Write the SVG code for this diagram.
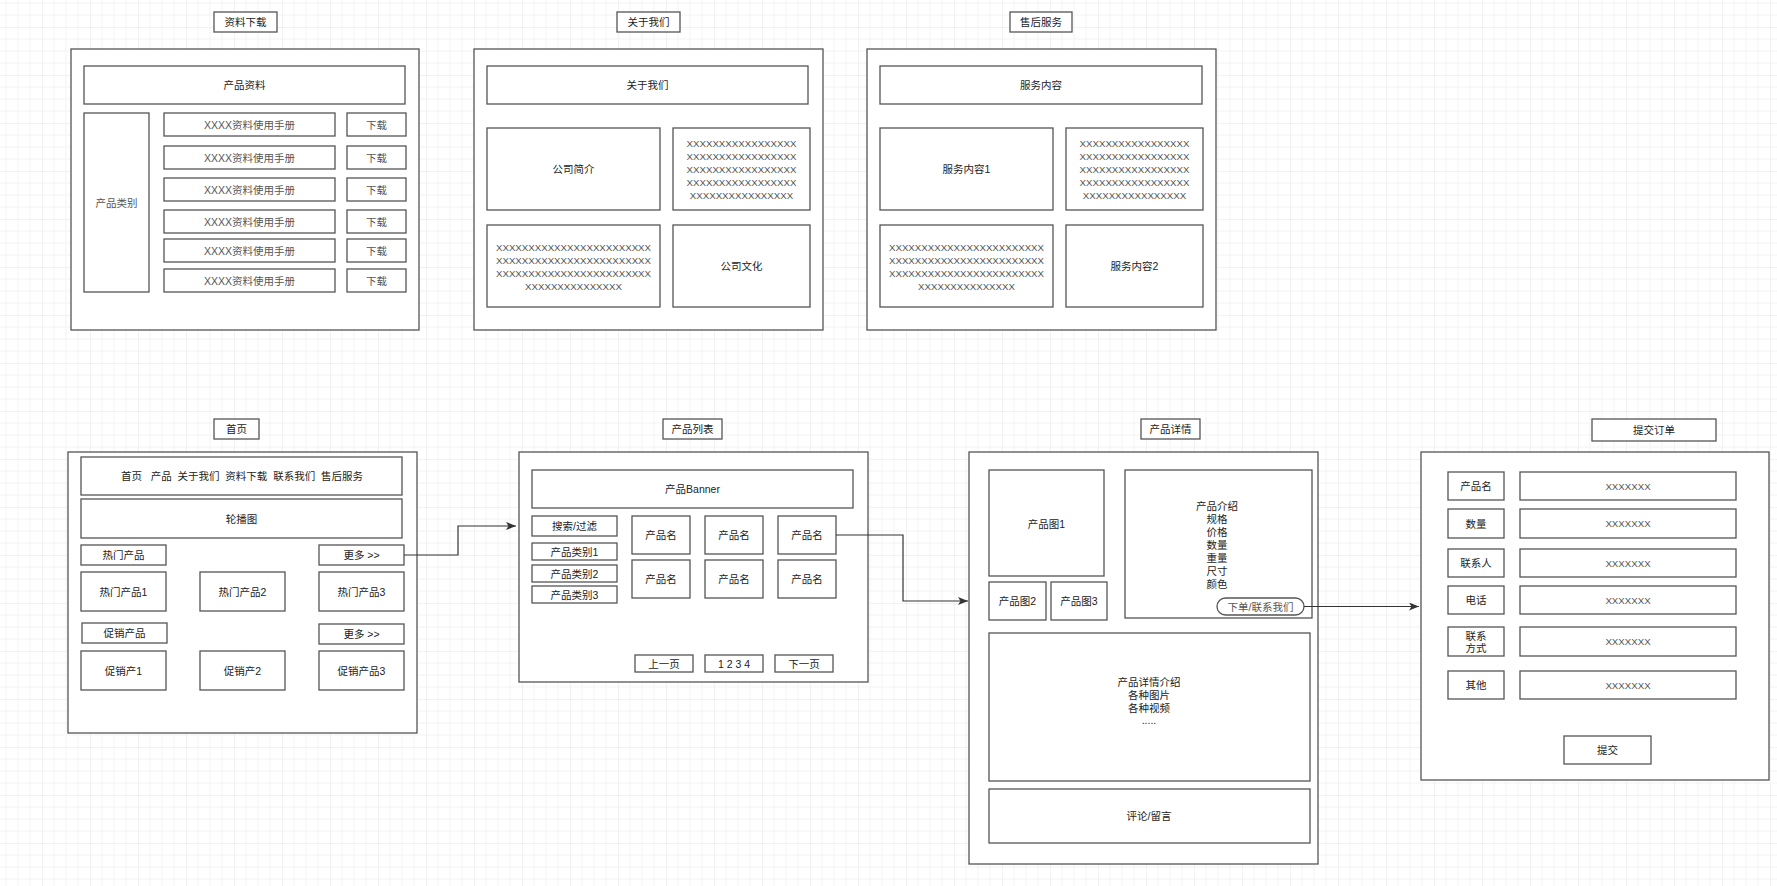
<svg xmlns="http://www.w3.org/2000/svg" width="1777" height="886" viewBox="0 0 1777 886">
<style>
.b{fill:#fff;stroke:#555;stroke-width:1.3}
.t{font-family:"Liberation Sans","Noto Sans CJK SC",sans-serif;font-size:10.5px;fill:#222;text-anchor:middle;dominant-baseline:central}
.l{fill:#555}
.x{font-family:"Liberation Sans","Noto Sans CJK SC",sans-serif;font-size:9.7px;fill:#555;text-anchor:middle;dominant-baseline:central}
.c{fill:none;stroke:#333;stroke-width:1.2}
</style>
<defs>
<pattern id="grid" x="42" y="27" width="48" height="48" patternUnits="userSpaceOnUse">
<path d="M12 0V48M24 0V48M36 0V48M0 12H48M0 24H48M0 36H48" stroke="#f3f3f3" stroke-width="1" fill="none"/>
<path d="M0 0V48M0 0H48" stroke="#e6e6e6" stroke-width="1" fill="none"/>
</pattern>
<marker id="arr" markerWidth="10" markerHeight="8" refX="10" refY="4" orient="auto" markerUnits="userSpaceOnUse">
<path d="M0 0L10 4L0 8L2.5 4Z" fill="#333"/>
</marker>
</defs>
<rect width="1777" height="886" fill="#fff"/>
<rect width="1777" height="886" fill="url(#grid)"/>

<g id="page-download">
<rect class="b" x="214" y="12" width="63" height="20"/><text class="t" x="245.5" y="22">资料下载</text>
<rect class="b" x="71" y="49" width="348" height="281"/>
<rect class="b" x="84" y="66" width="321" height="38"/><text class="t" x="244.5" y="85">产品资料</text>
<rect class="b" x="84" y="113" width="65" height="179"/><text class="t l" x="116.5" y="202.5">产品类别</text>
<rect class="b" x="164" y="113" width="171" height="23"/><text class="t l" x="249.5" y="124.5">XXXX资料使用手册</text>
<rect class="b" x="347" y="113" width="59" height="23"/><text class="t l" x="376.5" y="124.5">下载</text>
<rect class="b" x="164" y="146" width="171" height="23"/><text class="t l" x="249.5" y="157.5">XXXX资料使用手册</text>
<rect class="b" x="347" y="146" width="59" height="23"/><text class="t l" x="376.5" y="157.5">下载</text>
<rect class="b" x="164" y="178" width="171" height="23"/><text class="t l" x="249.5" y="189.5">XXXX资料使用手册</text>
<rect class="b" x="347" y="178" width="59" height="23"/><text class="t l" x="376.5" y="189.5">下载</text>
<rect class="b" x="164" y="210" width="171" height="23"/><text class="t l" x="249.5" y="221.5">XXXX资料使用手册</text>
<rect class="b" x="347" y="210" width="59" height="23"/><text class="t l" x="376.5" y="221.5">下载</text>
<rect class="b" x="164" y="239" width="171" height="23"/><text class="t l" x="249.5" y="250.5">XXXX资料使用手册</text>
<rect class="b" x="347" y="239" width="59" height="23"/><text class="t l" x="376.5" y="250.5">下载</text>
<rect class="b" x="164" y="269" width="171" height="23"/><text class="t l" x="249.5" y="280.5">XXXX资料使用手册</text>
<rect class="b" x="347" y="269" width="59" height="23"/><text class="t l" x="376.5" y="280.5">下载</text>
</g>

<g id="page-about">
<rect class="b" x="617" y="12" width="63" height="20"/><text class="t" x="648.5" y="22">关于我们</text>
<rect class="b" x="474" y="49" width="349" height="281"/>
<rect class="b" x="487" y="66" width="321" height="38"/><text class="t" x="647.5" y="85">关于我们</text>
<rect class="b" x="487" y="128" width="173" height="82"/><text class="t" x="573.5" y="169">公司简介</text>
<rect class="b" x="673" y="128" width="137" height="82"/>
<text class="x" x="741.5" y="143">XXXXXXXXXXXXXXXXX</text>
<text class="x" x="741.5" y="156">XXXXXXXXXXXXXXXXX</text>
<text class="x" x="741.5" y="169">XXXXXXXXXXXXXXXXX</text>
<text class="x" x="741.5" y="182">XXXXXXXXXXXXXXXXX</text>
<text class="x" x="741.5" y="195">XXXXXXXXXXXXXXXX</text>
<rect class="b" x="487" y="225" width="173" height="82"/>
<text class="x" x="573.5" y="247">XXXXXXXXXXXXXXXXXXXXXXXX</text>
<text class="x" x="573.5" y="260">XXXXXXXXXXXXXXXXXXXXXXXX</text>
<text class="x" x="573.5" y="273">XXXXXXXXXXXXXXXXXXXXXXXX</text>
<text class="x" x="573.5" y="286">XXXXXXXXXXXXXXX</text>
<rect class="b" x="673" y="225" width="137" height="82"/><text class="t" x="741.5" y="266">公司文化</text>
</g>

<g id="page-service">
<rect class="b" x="1010" y="12" width="62" height="20"/><text class="t" x="1041" y="22">售后服务</text>
<rect class="b" x="867" y="49" width="349" height="281"/>
<rect class="b" x="880" y="66" width="322" height="38"/><text class="t" x="1041" y="85">服务内容</text>
<rect class="b" x="880" y="128" width="173" height="82"/><text class="t" x="966.5" y="169">服务内容1</text>
<rect class="b" x="1066" y="128" width="137" height="82"/>
<text class="x" x="1134.5" y="143">XXXXXXXXXXXXXXXXX</text>
<text class="x" x="1134.5" y="156">XXXXXXXXXXXXXXXXX</text>
<text class="x" x="1134.5" y="169">XXXXXXXXXXXXXXXXX</text>
<text class="x" x="1134.5" y="182">XXXXXXXXXXXXXXXXX</text>
<text class="x" x="1134.5" y="195">XXXXXXXXXXXXXXXX</text>
<rect class="b" x="880" y="225" width="173" height="82"/>
<text class="x" x="966.5" y="247">XXXXXXXXXXXXXXXXXXXXXXXX</text>
<text class="x" x="966.5" y="260">XXXXXXXXXXXXXXXXXXXXXXXX</text>
<text class="x" x="966.5" y="273">XXXXXXXXXXXXXXXXXXXXXXXX</text>
<text class="x" x="966.5" y="286">XXXXXXXXXXXXXXX</text>
<rect class="b" x="1066" y="225" width="137" height="82"/><text class="t" x="1134.5" y="266">服务内容2</text>
</g>

<g id="page-home">
<rect class="b" x="214" y="419" width="45" height="20"/><text class="t" x="236.5" y="429">首页</text>
<rect class="b" x="68" y="452" width="349" height="281"/>
<rect class="b" x="81" y="457" width="321" height="38"/><text class="t" x="242" y="476" style="white-space:pre">首页   产品  关于我们  资料下载  联系我们  售后服务</text>
<rect class="b" x="81" y="499" width="321" height="39"/><text class="t" x="241.5" y="518.5">轮播图</text>
<rect class="b" x="81" y="545" width="85" height="20"/><text class="t" x="123.5" y="555">热门产品</text>
<rect class="b" x="319" y="545" width="85" height="20"/><text class="t" x="361.5" y="555">更多 &gt;&gt;</text>
<rect class="b" x="81" y="572" width="85" height="39"/><text class="t" x="123.5" y="591.5">热门产品1</text>
<rect class="b" x="200" y="572" width="85" height="39"/><text class="t" x="242.5" y="591.5">热门产品2</text>
<rect class="b" x="319" y="572" width="85" height="39"/><text class="t" x="361.5" y="591.5">热门产品3</text>
<rect class="b" x="82" y="623" width="85" height="20"/><text class="t" x="124.5" y="633">促销产品</text>
<rect class="b" x="319" y="624" width="85" height="20"/><text class="t" x="361.5" y="634">更多 &gt;&gt;</text>
<rect class="b" x="81" y="651" width="85" height="39"/><text class="t" x="123.5" y="670.5">促销产1</text>
<rect class="b" x="200" y="651" width="85" height="39"/><text class="t" x="242.5" y="670.5">促销产2</text>
<rect class="b" x="319" y="651" width="85" height="39"/><text class="t" x="361.5" y="670.5">促销产品3</text>
</g>

<g id="page-list">
<rect class="b" x="663" y="419" width="59" height="20"/><text class="t" x="692.5" y="429">产品列表</text>
<rect class="b" x="519" y="452" width="349" height="230"/>
<rect class="b" x="532" y="470" width="321" height="38"/><text class="t" x="692.5" y="489">产品Banner</text>
<rect class="b" x="532" y="516" width="85" height="20"/><text class="t" x="574.5" y="526">搜索/过滤</text>
<rect class="b" x="532" y="543" width="85" height="17"/><text class="t" x="574.5" y="551.5">产品类别1</text>
<rect class="b" x="532" y="565" width="85" height="17"/><text class="t" x="574.5" y="573.5">产品类别2</text>
<rect class="b" x="532" y="586" width="85" height="17"/><text class="t" x="574.5" y="594.5">产品类别3</text>
<rect class="b" x="632" y="516" width="58" height="38"/><text class="t" x="661" y="535">产品名</text>
<rect class="b" x="705" y="516" width="58" height="38"/><text class="t" x="734" y="535">产品名</text>
<rect class="b" x="778" y="516" width="58" height="38"/><text class="t" x="807" y="535">产品名</text>
<rect class="b" x="632" y="560" width="58" height="38"/><text class="t" x="661" y="579">产品名</text>
<rect class="b" x="705" y="560" width="58" height="38"/><text class="t" x="734" y="579">产品名</text>
<rect class="b" x="778" y="560" width="58" height="38"/><text class="t" x="807" y="579">产品名</text>
<rect class="b" x="635" y="655" width="58" height="17"/><text class="t" x="664" y="663.5">上一页</text>
<rect class="b" x="705" y="655" width="58" height="17"/><text class="t" x="734" y="663.5" style="white-space:pre">1 2 3 4</text>
<rect class="b" x="775" y="655" width="58" height="17"/><text class="t" x="804" y="663.5">下一页</text>
</g>

<g id="page-detail">
<rect class="b" x="1141" y="419" width="59" height="20"/><text class="t" x="1170.5" y="429">产品详情</text>
<rect class="b" x="969" y="452" width="349" height="412"/>
<rect class="b" x="989" y="470" width="115" height="106"/><text class="t" x="1046.5" y="524">产品图1</text>
<rect class="b" x="989" y="582" width="57" height="38"/><text class="t" x="1017.5" y="601">产品图2</text>
<rect class="b" x="1051" y="582" width="56" height="38"/><text class="t" x="1079" y="601">产品图3</text>
<rect class="b" x="1125" y="470" width="187" height="148"/>
<text class="t" x="1217" y="506">产品介绍</text>
<text class="t" x="1217" y="519">规格</text>
<text class="t" x="1217" y="532">价格</text>
<text class="t" x="1217" y="545">数量</text>
<text class="t" x="1217" y="558">重量</text>
<text class="t" x="1217" y="571">尺寸</text>
<text class="t" x="1217" y="584">颜色</text>
<rect class="b" x="1217" y="598" width="87" height="17" rx="8.5"/><text class="t l" x="1260.5" y="606.5">下单/联系我们</text>
<rect class="b" x="989" y="633" width="321" height="148"/>
<text class="t" x="1149" y="682">产品详情介绍</text>
<text class="t" x="1149" y="695">各种图片</text>
<text class="t" x="1149" y="708">各种视频</text>
<text class="t" x="1149" y="720">.....</text>
<rect class="b" x="989" y="789" width="321" height="54"/><text class="t" x="1149" y="816">评论/留言</text>
</g>

<g id="page-order">
<rect class="b" x="1592" y="419" width="124" height="22"/><text class="t" x="1654" y="430">提交订单</text>
<rect class="b" x="1421" y="452" width="348" height="328"/>
<rect class="b" x="1448" y="472" width="56" height="28"/><text class="t" x="1476" y="486">产品名</text>
<rect class="b" x="1520" y="472" width="216" height="28"/><text class="x" x="1628" y="486">XXXXXXX</text>
<rect class="b" x="1448" y="509" width="56" height="29"/><text class="t" x="1476" y="523.5">数量</text>
<rect class="b" x="1520" y="509" width="216" height="29"/><text class="x" x="1628" y="523.5">XXXXXXX</text>
<rect class="b" x="1448" y="549" width="56" height="28"/><text class="t" x="1476" y="563">联系人</text>
<rect class="b" x="1520" y="549" width="216" height="28"/><text class="x" x="1628" y="563">XXXXXXX</text>
<rect class="b" x="1448" y="586" width="56" height="28"/><text class="t" x="1476" y="600">电话</text>
<rect class="b" x="1520" y="586" width="216" height="28"/><text class="x" x="1628" y="600">XXXXXXX</text>
<rect class="b" x="1448" y="627" width="56" height="29"/><text class="t" x="1476" y="636">联系</text><text class="t" x="1476" y="648">方式</text>
<rect class="b" x="1520" y="627" width="216" height="29"/><text class="x" x="1628" y="641.5">XXXXXXX</text>
<rect class="b" x="1448" y="671" width="56" height="28"/><text class="t" x="1476" y="685">其他</text>
<rect class="b" x="1520" y="671" width="216" height="28"/><text class="x" x="1628" y="685">XXXXXXX</text>
<rect class="b" x="1564" y="736" width="87" height="28"/><text class="t" x="1607.5" y="750">提交</text>
</g>

<g id="connectors">
<path class="c" d="M404 555H458V526H516" marker-end="url(#arr)"/>
<path class="c" d="M836 535H903V601H968" marker-end="url(#arr)"/>
<path class="c" d="M1304 606.5H1419" marker-end="url(#arr)"/>
</g>
</svg>
